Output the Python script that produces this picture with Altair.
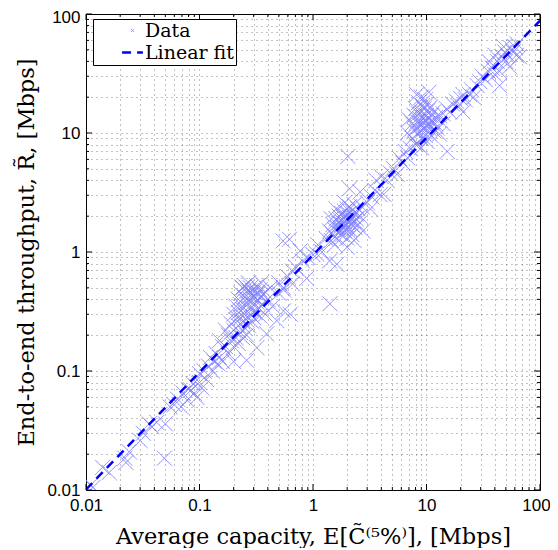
import altair as alt
import pandas as pd

# ---------------- data ----------------
low_x = [0.011, 0.0115, 0.014, 0.016, 0.022, 0.0225, 0.024, 0.03, 0.032, 0.038, 0.042, 0.036,
         0.05, 0.049, 0.055, 0.06, 0.064, 0.069, 0.072, 0.078, 0.08, 0.084, 0.088, 0.09, 0.095,
         0.1, 0.1, 0.105, 0.11, 0.115, 0.12, 0.125, 0.13, 0.135, 0.14, 0.145, 0.15, 0.16]
low_y = [0.011, 0.0105, 0.0155, 0.014, 0.0185, 0.017, 0.021, 0.026, 0.03, 0.034, 0.037, 0.036,
         0.036, 0.0185, 0.05, 0.052, 0.058, 0.05, 0.065, 0.057, 0.07, 0.069, 0.078, 0.065, 0.06,
         0.08, 0.095, 0.072, 0.1, 0.085, 0.11, 0.13, 0.1, 0.12, 0.14, 0.115, 0.13, 0.16]

a_x = [0.17, 0.18, 0.18, 0.19, 0.19, 0.2, 0.2, 0.2, 0.21, 0.21, 0.21, 0.22, 0.22, 0.22, 0.22,
       0.23, 0.23, 0.23, 0.23, 0.24, 0.24, 0.24, 0.24, 0.25, 0.25, 0.25, 0.25, 0.26, 0.26, 0.26,
       0.26, 0.27, 0.27, 0.27, 0.28, 0.28, 0.28, 0.28, 0.29, 0.29, 0.29, 0.3, 0.3, 0.3, 0.3, 0.31,
       0.31, 0.32, 0.32, 0.32, 0.32, 0.33, 0.33, 0.34, 0.34, 0.35, 0.36, 0.36, 0.38, 0.38, 0.39,
       0.4, 0.42, 0.44, 0.48, 0.5, 0.55, 0.26, 0.2, 0.16, 0.17, 0.15, 0.63, 0.27, 0.24, 0.35]
a_y = [0.16, 0.2, 0.14, 0.25, 0.18, 0.3, 0.22, 0.16, 0.35, 0.27, 0.19, 0.4, 0.31, 0.24, 0.17,
       0.45, 0.36, 0.28, 0.21, 0.5, 0.33, 0.26, 0.19, 0.52, 0.42, 0.3, 0.23, 0.5, 0.38, 0.27,
       0.2, 0.47, 0.34, 0.24, 0.5, 0.46, 0.4, 0.3, 0.44, 0.33, 0.26, 0.46, 0.42, 0.36, 0.28, 0.41,
       0.31, 0.52, 0.45, 0.38, 0.157, 0.45, 0.34, 0.48, 0.29, 0.42, 0.44, 0.36, 0.46, 0.3, 0.205,
       0.4, 0.5, 0.35, 0.265, 0.45, 0.5, 0.123, 0.12, 0.12, 0.22, 0.18, 0.3, 0.55, 0.5, 0.55]

mid_x = [0.5, 0.55, 0.6, 0.66, 0.66, 0.7, 0.77, 0.81, 0.88, 0.9, 1.0, 1.08, 1.1, 1.2, 1.4,
         1.62, 0.545, 0.62, 0.55, 1.41]
mid_y = [0.55, 0.48, 0.62, 0.69, 0.54, 0.75, 1.02, 0.84, 0.6, 0.9, 0.95, 0.96, 1.15, 1.0, 0.84,
         0.79, 1.24, 1.28, 0.32, 0.367]

b_x = [1.3, 1.4, 1.45, 1.5, 1.5, 1.55, 1.6, 1.6, 1.65, 1.7, 1.7, 1.7, 1.75, 1.75, 1.8, 1.8,
       1.8, 1.85, 1.85, 1.9, 1.9, 1.9, 1.95, 1.95, 2.0, 2.0, 2.0, 2.0, 2.05, 2.05, 2.1, 2.1, 2.1,
       2.15, 2.2, 2.2, 2.2, 2.25, 2.3, 2.3, 2.35, 2.4, 2.4, 2.5, 2.5, 2.6, 2.7, 2.75, 1.6, 1.45,
       2.6, 2.1, 1.9, 2.3, 2.0, 1.55]
b_y = [1.3, 1.5, 1.25, 1.7, 1.4, 1.55, 1.9, 1.3, 1.6, 2.0, 1.75, 1.45, 1.85, 1.55, 2.1, 1.7,
       1.4, 1.95, 1.6, 2.2, 1.8, 1.5, 2.0, 1.7, 2.3, 1.9, 1.6, 1.3, 2.1, 1.75, 2.4, 1.95, 1.55,
       1.85, 2.2, 1.7, 1.4, 2.0, 2.5, 1.8, 1.6, 2.1, 1.9, 2.3, 1.7, 2.0, 2.4, 1.5, 2.3, 1.9,
       3.2, 3.4, 2.6, 1.25, 1.1, 1.15]

m2_x = [3.0, 3.2, 3.5, 3.9, 4.2, 3.6, 4.0, 4.5, 5.1, 5.5, 5.8, 6.2, 6.5, 2.03, 3.3, 4.8, 6.8]
m2_y = [2.6, 2.3, 3.3, 3.03, 3.05, 4.0, 4.3, 4.0, 5.05, 4.5, 6.1, 5.6, 7.0, 6.35, 2.9, 4.6, 6.2]

c_x = [7.2, 7.5, 7.5, 7.8, 7.8, 8.0, 8.0, 8.0, 8.3, 8.3, 8.5, 8.5, 8.5, 8.8, 8.8, 9.0, 9.0,
       9.0, 9.0, 9.2, 9.2, 9.5, 9.5, 9.5, 9.8, 9.8, 9.8, 10.0, 10.0, 10.0, 10.1, 10.3, 10.3,
       10.5, 10.5, 10.7, 10.8, 11.0, 11.0, 11.2, 11.5, 11.5, 12.0, 12.0, 12.5, 13.0, 13.0, 14.0,
       15.2, 7.0, 6.8, 8.2, 10.5, 9.0]
c_y = [7.4, 9.0, 12.0, 10.5, 14.0, 8.0, 11.0, 16.0, 8.0, 12.5, 10.0, 14.5, 18.0, 11.5, 13.0,
       9.0, 12.0, 15.0, 20.0, 10.5, 17.0, 11.0, 13.5, 16.0, 9.5, 12.5, 19.0, 10.5, 14.0, 17.5,
       8.5, 12.0, 15.5, 11.0, 13.0, 11.7, 16.5, 9.5, 14.0, 12.5, 10.5, 15.0, 12.0, 13.5, 11.0,
       14.0, 9.8, 12.0, 7.0, 13.0, 10.0, 21.0, 22.0, 7.5]

up_x = [14, 15, 16, 17, 18.4, 19, 20, 21, 21, 22, 24, 25, 26, 28, 29.5, 31, 33, 35, 36, 38,
        40, 42, 44, 44, 46, 49, 50, 52, 54, 55, 58, 60, 62, 66, 63, 48, 40]
up_y = [14.5, 16, 15, 17.5, 18.5, 17, 19.5, 15, 21, 19, 21, 23, 20, 25, 27, 30, 28, 33, 39.5,
        35, 31, 40, 25, 33, 44, 48, 40, 45, 36, 52, 48, 53, 45, 43.7, 56, 53, 45]

fit_x = [0.01, 100]
fit_y = [0.0101, 88]

series_names = ["Data", "Linear fit"]
series_colors = ["#8080ff", "#0000ff"]

decades = [0.01, 0.1, 1, 10, 100]
minor = [m * d for d in [0.01, 0.1, 1, 10] for m in range(2, 10)]
grid_vals = sorted(decades + minor)

# ---------------- chart ----------------
W, H = 454, 476
data_x = low_x + a_x + mid_x + b_x + m2_x + c_x + up_x
data_y = low_y + a_y + mid_y + b_y + m2_y + c_y + up_y
df = pd.DataFrame({"x": data_x, "y": data_y, "series": "Data"})
fit_df = pd.DataFrame({"x": fit_x, "y": fit_y, "series": "Linear fit"})

xs = alt.Scale(type="log", domain=[0.01, 100], nice=False)
ys = alt.Scale(type="log", domain=[0.01, 100], nice=False)

label_expr = "indexof([0.01, 0.1, 1, 10, 100], datum.value) >= 0 ? format(datum.value, '') : ''"
common_axis = dict(values=grid_vals, labelExpr=label_expr, grid=True, gridDash=[1, 4],
                   gridColor="#222222", gridOpacity=0.55, gridWidth=1, ticks=False, tickSize=0,
                   domain=False, labelFont="Liberation Sans", labelFontSize=17,
                   labelColor="black", labelFlush=False, labelOverlap=False,
                   titleFont="DejaVu Serif", titleFontSize=22.5, titleFontWeight="normal",
                   titleColor="black", titleBaseline="alphabetic")

x_axis = alt.Axis(title="Average capacity, E[C̃⁽⁵%⁾], [Mbps]", labelPadding=7, titleY=53,
                  labelOffset={"condition": {"test": "datum.value >= 100", "value": -4},
                               "value": 0},
                  **common_axis)
y_axis = alt.Axis(title="End-to-end throughput, R̃, [Mbps]", labelPadding=6, titleX=-53,
                  labelOffset={"condition": {"test": "datum.value >= 100", "value": 3},
                               "value": 0},
                  **common_axis)

# marker shapes: small 'x' and a long horizontal stroke (for the legend dash)
x_path = "M-1,-1L1,1M1,-1L-1,1"
dash_path = "M-6.6,0L6.6,0"

legend = alt.Legend(orient="none", legendX=7, legendY=5, title=None, strokeColor="black",
                    fillColor="white", padding=2, labelFont="DejaVu Serif", labelFontSize=19,
                    labelColor="black", symbolSize=10, rowPadding=2, labelOffset=3,
                    symbolOffset=28, cornerRadius=0,
                    labelExpr="datum.label + '\u00a0\u00a0\u00a0\u00a0\u00a0'")

color = alt.Color("series:N", scale=alt.Scale(domain=series_names, range=series_colors),
                  legend=legend)
shape = alt.Shape("series:N", scale=alt.Scale(domain=series_names, range=[x_path, dash_path]),
                  legend=legend)
dash = alt.StrokeDash("series:N", scale=alt.Scale(domain=series_names, range=[[1, 0], [9, 6]]),
                      legend=legend)
swidth = alt.StrokeWidth("series:N", scale=alt.Scale(domain=series_names, range=[1, 2.5]),
                         legend=legend)

points = alt.Chart(df).mark_point(filled=False, size=225, opacity=1, clip=True).encode(
    x=alt.X("x:Q", scale=xs, axis=x_axis),
    y=alt.Y("y:Q", scale=ys, axis=y_axis),
    color=color, shape=shape, strokeDash=dash, strokeWidth=swidth,
)

fit = alt.Chart(fit_df).mark_line(clip=True).encode(
    x=alt.X("x:Q", scale=xs),
    y=alt.Y("y:Q", scale=ys),
    color=alt.Color("series:N", scale=alt.Scale(domain=series_names, range=series_colors)),
    strokeDash=alt.StrokeDash("series:N", scale=alt.Scale(domain=series_names, range=[[1, 0], [9, 6]])),
    strokeWidth=alt.StrokeWidth("series:N", scale=alt.Scale(domain=series_names, range=[1, 2.5])),
)

major_df = pd.DataFrame({"x": decades, "y": decades})
minor_df = pd.DataFrame({"x": minor, "y": minor})


def xticks(d, y0, y1):
    return alt.Chart(d).mark_rule(color="black", strokeWidth=1).encode(
        x=alt.X("x:Q", scale=xs), y=alt.value(y0), y2=alt.value(y1))


def yticks(d, x0, x1):
    return alt.Chart(d).mark_rule(color="black", strokeWidth=1).encode(
        y=alt.Y("y:Q", scale=ys), x=alt.value(x0), x2=alt.value(x1))


MJ, MN = 6, 3
ticks = [
    xticks(major_df, H - MJ, H), xticks(major_df, 0, MJ),
    xticks(minor_df, H - MN, H), xticks(minor_df, 0, MN),
    yticks(major_df, 0, MJ), yticks(major_df, W - MJ, W),
    yticks(minor_df, 0, MN), yticks(minor_df, W - MN, W),
]

chart = alt.layer(points, fit, *ticks).properties(
    width=W, height=H,
    autosize=alt.AutoSizeParams(type="none"),
    padding={"left": 78, "top": 6, "right": 10, "bottom": 58},
    background="white",
).configure_view(stroke="black", strokeWidth=1)

chart.save("out.html", embed_options={"renderer": "svg", "actions": False})
